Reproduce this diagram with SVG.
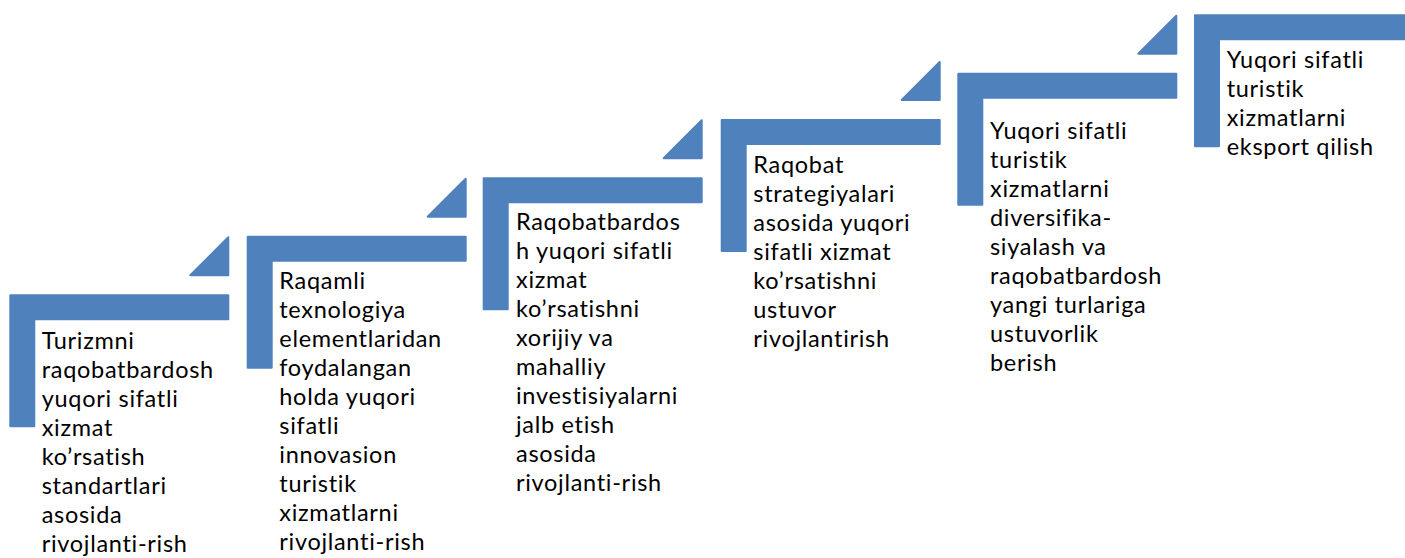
<svg xmlns="http://www.w3.org/2000/svg" width="1405" height="558" viewBox="0 0 1405 558">
  <defs>
    <style>
      .bar { fill: #4F81BD; stroke: #4F81BD; stroke-width: 2; stroke-linejoin: round; }
      .lbl { font-family: Lato, "Open Sans", "Liberation Sans", sans-serif; font-size: 23.5px; letter-spacing: 0.7px; fill: #000000; }
    </style>
    <!-- corner bracket: 220 wide, 26 thick, 133 tall; origin at top-left -->
    <path id="corner" d="M1,1 H219 V25 H25 V132 H1 Z"/>
    <!-- small rising triangle at the right end of each step -->
    <path id="tri" d="M219,-57 V-19 H181 Z"/>
  </defs>
  <rect width="1405" height="558" fill="#FFFFFF"/>

  <g id="connectors"></g>

  <g id="step1" transform="translate(9.3,294.3)">
    <use href="#corner" class="bar"/>
    <use href="#tri" class="bar"/>
    <text class="lbl" x="32.4" y="55">
      <tspan x="32.4" dy="0">Turizmni</tspan>
      <tspan x="32.4" dy="29">raqobatbardosh</tspan>
      <tspan x="32.4" dy="29">yuqori sifatli</tspan>
      <tspan x="32.4" dy="29">xizmat</tspan>
      <tspan x="32.4" dy="29">ko’rsatish</tspan>
      <tspan x="32.4" dy="29">standartlari</tspan>
      <tspan x="32.4" dy="29">asosida</tspan>
      <tspan x="32.4" dy="29">rivojlanti-rish</tspan>
    </text>
  </g>

  <g id="step2" transform="translate(246.7,235.7)">
    <use href="#corner" class="bar"/>
    <use href="#tri" class="bar"/>
    <text class="lbl" x="32.6" y="53.6">
      <tspan x="32.6" dy="0">Raqamli</tspan>
      <tspan x="32.6" dy="29">texnologiya</tspan>
      <tspan x="32.6" dy="29">elementlaridan</tspan>
      <tspan x="32.6" dy="29">foydalangan</tspan>
      <tspan x="32.6" dy="29">holda yuqori</tspan>
      <tspan x="32.6" dy="29">sifatli</tspan>
      <tspan x="32.6" dy="29">innovasion</tspan>
      <tspan x="32.6" dy="29">turistik</tspan>
      <tspan x="32.6" dy="29">xizmatlarni</tspan>
      <tspan x="32.6" dy="29">rivojlanti-rish</tspan>
    </text>
  </g>

  <g id="step3" transform="translate(482.7,177.3)">
    <use href="#corner" class="bar"/>
    <use href="#tri" class="bar"/>
    <text class="lbl" x="33.3" y="52.7">
      <tspan x="33.3" dy="0">Raqobatbardos</tspan>
      <tspan x="33.3" dy="29">h yuqori sifatli</tspan>
      <tspan x="33.3" dy="29">xizmat</tspan>
      <tspan x="33.3" dy="29">ko’rsatishni</tspan>
      <tspan x="33.3" dy="29">xorijiy va</tspan>
      <tspan x="33.3" dy="29">mahalliy</tspan>
      <tspan x="33.3" dy="29">investisiyalarni</tspan>
      <tspan x="33.3" dy="29">jalb etish</tspan>
      <tspan x="33.3" dy="29">asosida</tspan>
      <tspan x="33.3" dy="29">rivojlanti-rish</tspan>
    </text>
  </g>

  <g id="step4" transform="translate(720.7,119)">
    <use href="#corner" class="bar"/>
    <use href="#tri" class="bar"/>
    <text class="lbl" x="32.6" y="53.5">
      <tspan x="32.6" dy="0">Raqobat</tspan>
      <tspan x="32.6" dy="29">strategiyalari</tspan>
      <tspan x="32.6" dy="29">asosida yuqori</tspan>
      <tspan x="32.6" dy="29">sifatli xizmat</tspan>
      <tspan x="32.6" dy="29">ko’rsatishni</tspan>
      <tspan x="32.6" dy="29">ustuvor</tspan>
      <tspan x="32.6" dy="29">rivojlantirish</tspan>
    </text>
  </g>

  <g id="step5" transform="translate(957.3,72.7)">
    <use href="#corner" class="bar"/>
    <use href="#tri" class="bar"/>
    <text class="lbl" x="32.7" y="66.6">
      <tspan x="32.7" dy="0">Yuqori sifatli</tspan>
      <tspan x="32.7" dy="29">turistik</tspan>
      <tspan x="32.7" dy="29">xizmatlarni</tspan>
      <tspan x="32.7" dy="29">diversifika-</tspan>
      <tspan x="32.7" dy="29">siyalash va</tspan>
      <tspan x="32.7" dy="29">raqobatbardosh</tspan>
      <tspan x="32.7" dy="29">yangi turlariga</tspan>
      <tspan x="32.7" dy="29">ustuvorlik</tspan>
      <tspan x="32.7" dy="29">berish</tspan>
    </text>
  </g>

  <g id="step6" transform="translate(1194,14.3)">
    <use href="#corner" class="bar"/>
    <text class="lbl" x="32.7" y="54">
      <tspan x="32.7" dy="0">Yuqori sifatli</tspan>
      <tspan x="32.7" dy="29">turistik</tspan>
      <tspan x="32.7" dy="29">xizmatlarni</tspan>
      <tspan x="32.7" dy="29">eksport qilish</tspan>
    </text>
  </g>
</svg>
